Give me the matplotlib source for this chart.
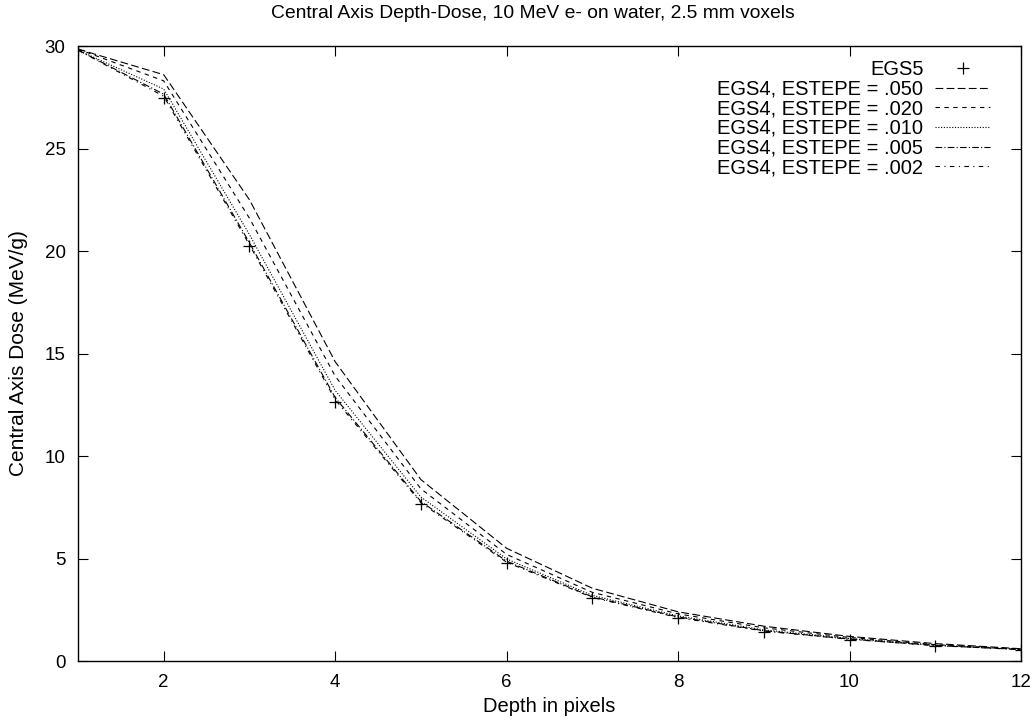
import numpy as np
import matplotlib
matplotlib.use('Agg')
import matplotlib.pyplot as plt

plt.rcParams['font.family'] = ['Liberation Sans', 'DejaVu Sans']

depth = [1, 2, 3, 4, 5, 6, 7, 8, 9, 10, 11, 12]

egs5 = [29.8, 27.45, 20.25, 12.65, 7.66, 4.8, 3.08, 2.1, 1.42, 1.03, 0.73, 0.55]
egs4_050 = [29.85, 28.6, 22.5, 14.6, 8.85, 5.5, 3.55, 2.4, 1.7, 1.2, 0.85, 0.6]
egs4_020 = [29.85, 28.3, 21.6, 13.9, 8.4, 5.2, 3.35, 2.3, 1.62, 1.15, 0.8, 0.58]
egs4_010 = [29.8, 27.9, 20.8, 13.2, 8.0, 4.98, 3.2, 2.2, 1.52, 1.1, 0.78, 0.57]
egs4_005 = [29.8, 27.65, 20.4, 12.85, 7.78, 4.87, 3.13, 2.15, 1.48, 1.07, 0.76, 0.56]
egs4_002 = [29.8, 27.55, 20.3, 12.75, 7.72, 4.82, 3.1, 2.12, 1.46, 1.06, 0.75, 0.56]

fig = plt.figure(figsize=(10.32, 7.26), dpi=100)
ax = fig.add_axes([0.0756, 0.0895, 0.9137, 0.8471])

ax.plot(depth, egs5, linestyle='none', marker='+', markersize=8, mew=0.9, color='black', label='EGS5')
ax.plot(depth, egs4_050, color='black', lw=0.8, dashes=(7, 3), label='EGS4, ESTEPE = .050')
ax.plot(depth, egs4_020, color='black', lw=0.8, dashes=(4, 4), label='EGS4, ESTEPE = .020')
ax.plot(depth, egs4_010, color='black', lw=0.8, dashes=(1, 1.5), label='EGS4, ESTEPE = .010')
ax.plot(depth, egs4_005, color='black', lw=0.8, dashes=(6, 2, 1, 2), label='EGS4, ESTEPE = .005')
ax.plot(depth, egs4_002, color='black', lw=0.8, dashes=(4, 4, 1, 4), label='EGS4, ESTEPE = .002')

ax.set_xlim(1, 12)
ax.set_ylim(0, 30)
ax.set_xticks([2, 4, 6, 8, 10, 12])
ax.set_yticks([0, 5, 10, 15, 20, 25, 30])
ax.tick_params(direction='in', top=True, right=True, length=7, width=0.8, labelsize=13.5, pad=9)
for s in ax.spines.values():
    s.set_linewidth(1.0)

ax.set_xlabel('Depth in pixels', fontsize=14.5, labelpad=5)
ax.set_ylabel('Central Axis Dose (MeV/g)', fontsize=15, labelpad=12)
fig.text(0.5165, 0.981, 'Central Axis Depth-Dose, 10 MeV e- on water, 2.5 mm voxels',
         fontsize=13.9, ha='center', va='center')

ax.legend(loc='upper right', bbox_to_anchor=(0.967, 0.977), frameon=False, markerfirst=False,
          fontsize=14.5, handlelength=2.7, labelspacing=0.03, handletextpad=0.6,
          borderaxespad=0.0, borderpad=0.0)

fig.savefig('out.png', dpi=100)
